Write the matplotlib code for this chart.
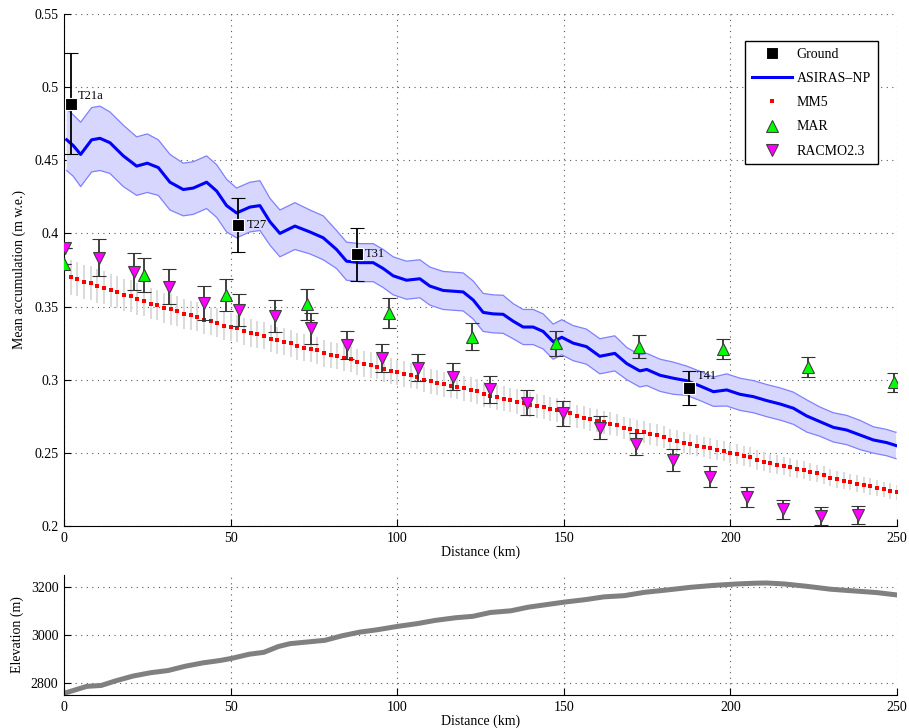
import numpy as np
import matplotlib
matplotlib.use("Agg")
import matplotlib.pyplot as plt

plt.rcParams["font.family"] = ["Liberation Serif", "DejaVu Serif"]
plt.rcParams["font.size"] = 10

# ground stations (distance km, accumulation m w.e., error)
ground_names = ["T21a", "T27", "T31", "T41"]
ground_km = [2.0, 52.3, 88.0, 187.7]
ground_acc = [0.4888, 0.4058, 0.3857, 0.2945]
ground_err = [0.0347, 0.0185, 0.018, 0.0117]

# ASIRAS-NP profile and half width of the shaded band
asiras_km = [0.8, 2.8, 5.0, 8.3, 10.8, 13.8, 17.8, 21.8, 25.0, 28.3,
             31.8, 35.8, 38.8, 42.8, 45.8, 48.8, 51.8, 55.8, 58.8, 61.8,
             64.8, 69.3, 73.8, 77.8, 81.8, 84.8, 88.8, 92.8, 95.8, 98.8,
             102.8, 106.8, 109.8, 113.8, 119.8, 122.8, 125.8, 128.8, 131.8, 134.8,
             137.8, 140.8, 143.8, 146.8, 149.4, 152.8, 156.8, 160.8, 165.3, 168.9,
             172.8, 174.9, 178.9, 182.9, 186.9, 190.9, 194.9, 198.9, 202.9, 206.9,
             210.9, 214.9, 218.9, 222.9, 226.9, 230.9, 234.9, 238.9, 242.9, 246.9,
             249.7]
asiras_acc = [0.464, 0.460, 0.454, 0.464, 0.465, 0.462, 0.453, 0.446, 0.448, 0.445,
              0.435, 0.430, 0.431, 0.435, 0.429, 0.419, 0.414, 0.418, 0.419, 0.408,
              0.400, 0.405, 0.401, 0.397, 0.389, 0.381, 0.380, 0.380, 0.376, 0.371,
              0.368, 0.369, 0.364, 0.361, 0.360, 0.3545, 0.346, 0.345, 0.3447, 0.340,
              0.336, 0.336, 0.333, 0.326, 0.329, 0.325, 0.3226, 0.316, 0.318, 0.311,
              0.306, 0.307, 0.303, 0.301, 0.2993, 0.2957, 0.2918, 0.293, 0.290, 0.2884,
              0.2857, 0.2834, 0.2805, 0.2752, 0.2713, 0.2674, 0.2656, 0.2622, 0.2588, 0.257,
              0.255]
asiras_hw = [0.021, 0.021, 0.022, 0.022, 0.022, 0.021, 0.021, 0.020, 0.020, 0.019,
             0.019, 0.018, 0.018, 0.018, 0.018, 0.018, 0.017, 0.017, 0.017, 0.016,
             0.016, 0.016, 0.015, 0.015, 0.013, 0.013, 0.013, 0.013, 0.013, 0.013,
             0.013, 0.013, 0.013, 0.013, 0.013, 0.013, 0.013, 0.013, 0.013, 0.012,
             0.012, 0.012, 0.012, 0.012, 0.012, 0.012, 0.012, 0.012, 0.012, 0.011,
             0.011, 0.011, 0.011, 0.011, 0.010, 0.010, 0.010, 0.011, 0.011, 0.011,
             0.011, 0.011, 0.011, 0.011, 0.010, 0.010, 0.010, 0.010, 0.009, 0.009,
             0.009]

# MM5 every 2 km
mm5_km = np.arange(2, 251, 2)
mm5_acc = [0.370, 0.369, 0.367, 0.366, 0.364, 0.363, 0.361, 0.360, 0.358, 0.357,
           0.355, 0.354, 0.352, 0.351, 0.349, 0.348, 0.347, 0.345, 0.344, 0.343,
           0.341, 0.340, 0.339, 0.337, 0.336, 0.335, 0.333, 0.332, 0.331, 0.330,
           0.328, 0.327, 0.326, 0.325, 0.323, 0.322, 0.321, 0.320, 0.318, 0.317,
           0.316, 0.315, 0.314, 0.312, 0.311, 0.310, 0.309, 0.307, 0.306, 0.305,
           0.304, 0.303, 0.302, 0.300, 0.299, 0.298, 0.297, 0.296, 0.295, 0.294,
           0.293, 0.292, 0.290, 0.289, 0.288, 0.287, 0.286, 0.285, 0.284, 0.283,
           0.282, 0.281, 0.280, 0.279, 0.278, 0.277, 0.275, 0.274, 0.273, 0.272,
           0.271, 0.270, 0.269, 0.267, 0.266, 0.265, 0.264, 0.263, 0.262, 0.261,
           0.259, 0.258, 0.257, 0.256, 0.255, 0.254, 0.253, 0.252, 0.251, 0.250,
           0.249, 0.248, 0.247, 0.245, 0.244, 0.243, 0.242, 0.241, 0.240, 0.239,
           0.238, 0.237, 0.236, 0.235, 0.233, 0.232, 0.231, 0.230, 0.229, 0.228,
           0.227, 0.226, 0.225, 0.224, 0.223]
mm5_err = [0.0118, 0.0117, 0.0116, 0.0115, 0.0114, 0.0113, 0.0112, 0.0111, 0.0110, 0.0109,
           0.0108, 0.0107, 0.0106, 0.0105, 0.0104, 0.0103, 0.0102, 0.0101, 0.0100, 0.0099,
           0.0098, 0.0097, 0.0097, 0.0096, 0.0096, 0.0095, 0.0095, 0.0094, 0.0094, 0.0093,
           0.0093, 0.0093, 0.0092, 0.0092, 0.0092, 0.0091, 0.0091, 0.0091, 0.0090, 0.0090,
           0.0090, 0.0089, 0.0089, 0.0089, 0.0089, 0.0088, 0.0088, 0.0088, 0.0088, 0.0088,
           0.0087, 0.0087, 0.0087, 0.0087, 0.0086, 0.0086, 0.0086, 0.0086, 0.0085, 0.0085,
           0.0085, 0.0085, 0.0084, 0.0084, 0.0084, 0.0084, 0.0083, 0.0083, 0.0083, 0.0083,
           0.0083, 0.0082, 0.0082, 0.0082, 0.0081, 0.0081, 0.0080, 0.0080, 0.0079, 0.0079,
           0.0078, 0.0078, 0.0077, 0.0077, 0.0076, 0.0076, 0.0075, 0.0075, 0.0074, 0.0074,
           0.0073, 0.0073, 0.0072, 0.0072, 0.0071, 0.0071, 0.0070, 0.0070, 0.0069, 0.0069,
           0.0068, 0.0068, 0.0067, 0.0066, 0.0066, 0.0065, 0.0064, 0.0064, 0.0063, 0.0062,
           0.0062, 0.0061, 0.0060, 0.0060, 0.0059, 0.0058, 0.0058, 0.0057, 0.0056, 0.0056,
           0.0055, 0.0055, 0.0054, 0.0054, 0.0053]

# MAR
mar_km = [0.0, 24.0, 48.5, 72.9, 97.6, 122.3, 147.6, 172.6, 197.9, 223.4, 249.1]
mar_acc = [0.379, 0.3714, 0.3579, 0.3515, 0.3454, 0.3294, 0.3249, 0.3226, 0.321, 0.3085, 0.2982]
mar_err = [0.0, 0.0117, 0.011, 0.0105, 0.0102, 0.0092, 0.0086, 0.0077, 0.0071, 0.0067, 0.0065]

# RACMO2.3
racmo_km = [0.3, 10.6, 21.0, 31.6, 42.0, 52.6, 63.3, 74.0, 84.8, 95.5, 106.2, 116.8,
            127.8, 138.9, 149.9, 160.8, 171.7, 182.7, 193.9, 204.9, 215.9, 227.1, 238.4]
racmo_acc = [0.390, 0.3834, 0.3739, 0.3636, 0.3527, 0.3476, 0.3435, 0.335, 0.3237, 0.315,
             0.3082, 0.302, 0.2934, 0.2843, 0.277, 0.2672, 0.2558, 0.2451, 0.2337, 0.22,
             0.2114, 0.207, 0.2075]
racmo_err = [0.0, 0.0127, 0.0127, 0.012, 0.0116, 0.011, 0.0108, 0.0105, 0.0098, 0.0094,
             0.0094, 0.0091, 0.009, 0.0086, 0.0084, 0.008, 0.0076, 0.0074, 0.007, 0.0067,
             0.0064, 0.0062, 0.006]

# elevation profile
elev_km = [0, 3.3, 6.8, 11.2, 15.5, 20.7, 26.0, 31.2, 36.4, 41.7, 46.9, 50.4, 55.6,
           60.0, 64.3, 67.8, 73.0, 78.3, 83.5, 88.7, 94.0, 100.1, 106.2, 111.4, 117.5,
           122.7, 128.0, 134.1, 139.3, 145.4, 150.6, 156.7, 162.0, 168.1, 174.2, 181.1,
           188.1, 195.1, 202.1, 207.3, 210.8, 216.0, 223.0, 230.0, 236.9, 243.9, 250.0]
elev_m = [2757, 2771, 2786, 2790, 2809, 2829, 2843, 2852, 2870, 2884, 2894, 2903, 2920,
          2928, 2952, 2964, 2971, 2978, 2997, 3012, 3022, 3036, 3048, 3061, 3072,
          3078, 3094, 3101, 3116, 3128, 3138, 3148, 3159, 3164, 3178, 3188,
          3199, 3207, 3213, 3216, 3217, 3213, 3203, 3191, 3184, 3177, 3167]

x_ticks = [0, 50, 100, 150, 200, 250]
acc_ticks = [0.2, 0.25, 0.3, 0.35, 0.4, 0.45, 0.5, 0.55]
elev_ticks = [2800, 3000, 3200]

fig = plt.figure(figsize=(9.09, 7.28), dpi=100)
ax = fig.add_axes([0.0704, 0.2775, 0.9164, 0.7033])
ax2 = fig.add_axes([0.0704, 0.0453, 0.9164, 0.1648])

grid_kw = dict(color="0.35", linestyle=(0, (1, 4)), linewidth=0.8)

# --- top panel
lo = np.array(asiras_acc) - np.array(asiras_hw)
hi = np.array(asiras_acc) + np.array(asiras_hw)
ax.fill_between(asiras_km, lo, hi, facecolor=(0.84, 0.84, 1.0), edgecolor="none", zorder=2)
ax.plot(asiras_km, lo, color=(0.5, 0.5, 1.0), lw=0.9, zorder=2.1)
ax.plot(asiras_km, hi, color=(0.5, 0.5, 1.0), lw=0.9, zorder=2.1)
asiras_line, = ax.plot(asiras_km, asiras_acc, color="b", lw=2.2, zorder=3, label="ASIRAS\u2013NP")

mm5 = ax.errorbar(mm5_km, mm5_acc, yerr=mm5_err, fmt="s", color="r", ms=3.3, mew=0,
                  ecolor="0.86", elinewidth=1.4, capsize=4, capthick=1.4, zorder=4, label="MM5")
mar = ax.errorbar(mar_km, mar_acc, yerr=mar_err, fmt="^", mfc=(0, 1, 0), mec="0.25", ms=8.5,
                  mew=0.8, ecolor="0.2", elinewidth=1.3, capsize=5, capthick=1.3, zorder=5,
                  label="MAR")
racmo = ax.errorbar(racmo_km, racmo_acc, yerr=racmo_err, fmt="v", mfc=(1, 0, 1), mec="0.25",
                    ms=8.5, mew=0.8, ecolor="0.2", elinewidth=1.3, capsize=5, capthick=1.3,
                    zorder=5, label="RACMO2.3")
ground = ax.errorbar(ground_km, ground_acc, yerr=ground_err, fmt="s", mfc="k", mec="w",
                     ms=8, mew=0.8, ecolor="k", elinewidth=1.3, capsize=5, capthick=1.3,
                     zorder=6, label="Ground")

label_offsets = [(7, 8), (8, 0), (8, 0), (7, 12)]
for name, xk, yv, off in zip(ground_names, ground_km, ground_acc, label_offsets):
    ax.annotate(name, (xk, yv), xytext=off, textcoords="offset pixels",
                ha="left", va="center", fontsize=9, zorder=7)

ax.set_xlim(0, 250)
ax.set_ylim(0.2, 0.55)
ax.set_xticks(x_ticks)
ax.set_yticks(acc_ticks)
ax.set_yticklabels(["%g" % t for t in acc_ticks])
ax.grid(True, **grid_kw)
ax.set_axisbelow(True)
ax.set_xlabel("Distance (km)", labelpad=1)
ax.set_ylabel("Mean accumulation (m w.e.)", labelpad=6)

leg = ax.legend([ground[0], asiras_line, mm5[0], mar[0], racmo[0]],
                ["Ground", "ASIRAS\u2013NP", "MM5", "MAR", "RACMO2.3"],
                loc="upper right", bbox_to_anchor=(0.977, 0.947), borderaxespad=0,
                fancybox=False, framealpha=1, edgecolor="k", handlelength=2.9,
                handletextpad=0.35, labelspacing=0.8, borderpad=0.5, fontsize=10)
leg.get_frame().set_linewidth(1.0)
leg.set_zorder(10)

# --- bottom panel
ax2.plot(elev_km, elev_m, color="0.5", lw=3.6, solid_capstyle="round")
ax2.set_xlim(0, 250)
ax2.set_ylim(2750, 3250)
ax2.set_xticks(x_ticks)
ax2.set_yticks(elev_ticks)
ax2.grid(True, **grid_kw)
ax2.set_axisbelow(True)
ax2.set_xlabel("Distance (km)", labelpad=1)
ax2.set_ylabel("Elevation (m)", labelpad=5)

for a in (ax, ax2):
    a.spines["top"].set_visible(False)
    a.spines["right"].set_visible(False)
    a.tick_params(direction="in", length=5, width=0.8, labelsize=10, pad=4)

fig.savefig("out.png", dpi=100)
